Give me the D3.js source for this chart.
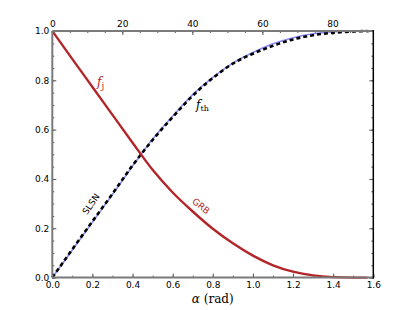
<!DOCTYPE html>
<meta charset="utf-8">
<head>
    <title>f_j and f_th</title>
</head>
<style>
 body { margin: 0; background: white; }
 .tick text { font-family: "DejaVu Sans", sans-serif; font-size: 9px; fill: #000; }
 .tick line { stroke: #555; }
 .spine { fill: none; }
</style>
<body>
    <div id="chart"></div>
    <script src="https://d3js.org/d3.v7.min.js"></script>
    <script>

     // alpha in radians
     var alpha = [0, 0.1, 0.2, 0.3, 0.4, 0.5, 0.6, 0.7, 0.8, 0.9, 1.0, 1.1, 1.2, 1.3, 1.4, 1.5, 1.5708];
     // red curve, f_j (GRB)
     var fJet = [1.000, 0.886, 0.773, 0.660, 0.547, 0.437, 0.345, 0.268, 0.198, 0.139, 0.089, 0.050, 0.024, 0.009, 0.002, 0.000, 0.000];
     // thin blue curve
     var fBlue = [0.000, 0.112, 0.225, 0.337, 0.452, 0.562, 0.655, 0.742, 0.812, 0.870, 0.913, 0.948, 0.973, 0.989, 0.997, 1.000, 1.000];
     // dashed black curve, f_th (SLSN)
     var fTh = [0.000, 0.115, 0.228, 0.340, 0.455, 0.558, 0.651, 0.738, 0.809, 0.868, 0.908, 0.940, 0.966, 0.983, 0.993, 0.998, 1.000];

     var xTicks = [0, 0.2, 0.4, 0.6, 0.8, 1.0, 1.2, 1.4, 1.6];
     var yTicks = [0, 0.2, 0.4, 0.6, 0.8, 1.0];
     var degTicks = [0, 20, 40, 60, 80];

     var width = 415, height = 310;
     var margin = {left: 52.3, right: 41.7, top: 31, bottom: 32.4};
     var iw = width - margin.left - margin.right,
         ih = height - margin.top - margin.bottom;

     var svg = d3.select("#chart").append("svg")
                 .attr("width", width)
                 .attr("height", height);

     var g = svg.append("g")
                .attr("transform", "translate(" + margin.left + "," + margin.top + ")");

     var x = d3.scaleLinear().domain([0, 1.6]).range([0, iw]);
     var xDeg = d3.scaleLinear().domain([0, 1.6 * 180 / Math.PI]).range([0, iw]);
     var y = d3.scaleLinear().domain([0, 1]).range([ih, 0]);

     function minor(lo, hi, step) {
         var out = [];
         for (var v = lo; v <= hi + 1e-9; v += step) out.push(+v.toFixed(4));
         return out;
     }

     function fmt1(d) { return d3.format(".1f")(d); }

     // minor ticks
     g.append("g").attr("transform", "translate(0," + ih + ")")
      .call(d3.axisBottom(x).tickValues(minor(0, 1.6, 0.1)).tickSize(-2).tickFormat(""));
     g.append("g")
      .call(d3.axisTop(xDeg).tickValues(minor(0, 90, 5)).tickSize(-2).tickFormat(""));
     g.append("g")
      .call(d3.axisLeft(y).tickValues(minor(0, 1, 0.05)).tickSize(-2).tickFormat(""));
     g.append("g").attr("transform", "translate(" + iw + ",0)")
      .call(d3.axisRight(y).tickValues(minor(0, 1, 0.05)).tickSize(-2).tickFormat(""));

     // major ticks
     g.append("g").attr("transform", "translate(0," + ih + ")")
      .call(d3.axisBottom(x).tickValues(xTicks).tickSize(-4).tickPadding(4).tickFormat(fmt1));
     g.append("g")
      .call(d3.axisTop(xDeg).tickValues(degTicks).tickSize(-4).tickPadding(4));
     g.append("g")
      .call(d3.axisLeft(y).tickValues(yTicks).tickSize(-4).tickPadding(3).tickFormat(fmt1));
     g.append("g").attr("transform", "translate(" + iw + ",0)")
      .call(d3.axisRight(y).tickValues(yTicks).tickSize(-4).tickFormat(""));

     g.selectAll(".domain").remove();

     var line = function (vals) {
         return d3.line()
                  .x(function (d, i) { return x(alpha[i]); })
                  .y(function (d) { return y(d); })
                  .curve(d3.curveMonotoneX)(vals);
     };

     g.append("path")
      .attr("d", line(fBlue))
      .attr("fill", "none")
      .attr("stroke", "#8c8cf5")
      .attr("stroke-width", 1.6);

     g.append("path")
      .attr("d", line(fTh))
      .attr("fill", "none")
      .attr("stroke", "#000")
      .attr("stroke-width", 2.6)
      .attr("stroke-dasharray", "4,3");

     g.append("path")
      .attr("d", line(fJet))
      .attr("fill", "none")
      .attr("stroke", "#b2262a")
      .attr("stroke-width", 2.4);

     // spines
     g.append("line").attr("class", "spine")
      .attr("x1", 0).attr("x2", 0).attr("y1", 0).attr("y2", ih)
      .attr("stroke", "#7a7a7a").attr("stroke-width", 2);
     g.append("line").attr("class", "spine")
      .attr("x1", 0).attr("x2", iw).attr("y1", ih).attr("y2", ih)
      .attr("stroke", "#7a7a7a").attr("stroke-width", 2);
     g.append("line").attr("class", "spine")
      .attr("x1", 0).attr("x2", iw).attr("y1", 0).attr("y2", 0)
      .attr("stroke", "#7a7a7a").attr("stroke-width", 2);
     g.append("line").attr("class", "spine")
      .attr("x1", iw).attr("x2", iw).attr("y1", -1).attr("y2", ih + 1)
      .attr("stroke", "#000").attr("stroke-width", 1.5);

     // curve labels
     var fj = svg.append("text")
                 .attr("x", 97).attr("y", 86)
                 .attr("fill", "#b2262a")
                 .style("font-family", "'DejaVu Serif', serif")
                 .style("font-size", "12px");
     fj.append("tspan").style("font-style", "italic").text("f");
     fj.append("tspan").attr("dy", 3).style("font-size", "9px").text("j");

     var fth = svg.append("text")
                  .attr("x", 196).attr("y", 109)
                  .attr("fill", "#000")
                  .style("font-family", "'DejaVu Serif', serif")
                  .style("font-size", "12px");
     fth.append("tspan").style("font-style", "italic").text("f");
     fth.append("tspan").attr("dy", 2).style("font-size", "8px").text("th");

     svg.append("text")
        .attr("transform", "translate(91,204) rotate(-55)")
        .attr("text-anchor", "middle")
        .attr("dy", "0.35em")
        .style("font-family", "'DejaVu Sans', sans-serif")
        .style("font-size", "9px")
        .text("SLSN");

     svg.append("text")
        .attr("transform", "translate(201,206) rotate(38)")
        .attr("text-anchor", "middle")
        .attr("dy", "0.35em")
        .attr("fill", "#b2262a")
        .style("font-family", "'DejaVu Sans', sans-serif")
        .style("font-size", "9px")
        .text("GRB");

     // x label
     var xl = svg.append("text")
                 .attr("x", margin.left + iw / 2).attr("y", 303)
                 .attr("text-anchor", "middle")
                 .style("font-family", "'DejaVu Serif', serif")
                 .style("font-size", "12px");
     xl.append("tspan").style("font-style", "italic").text("α");
     xl.append("tspan").text(" (rad)");

    </script>
</body>
